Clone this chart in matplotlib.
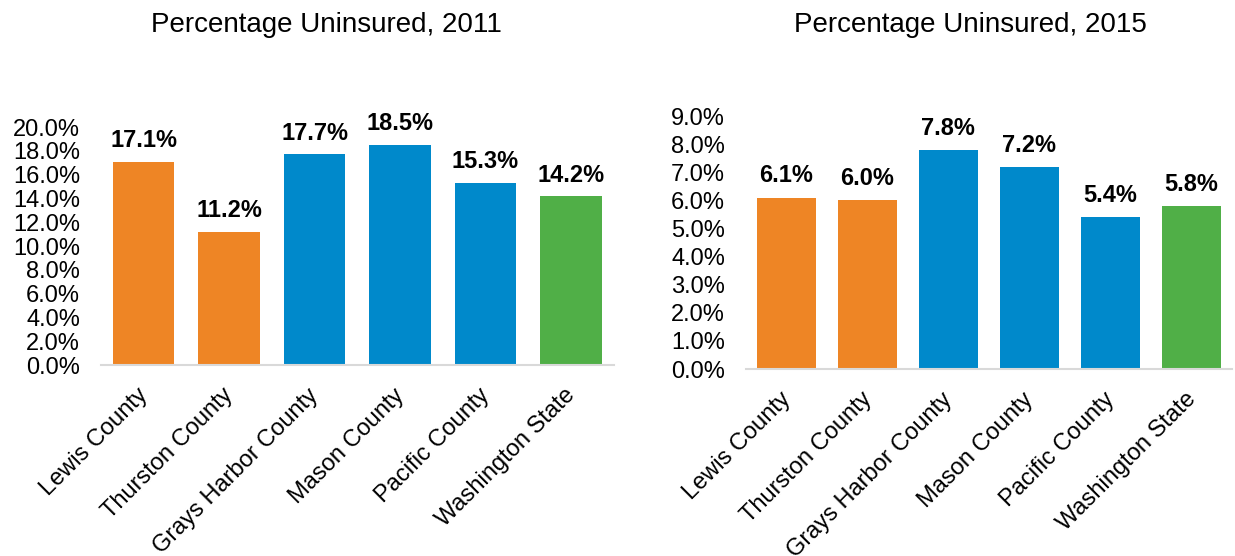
import matplotlib.pyplot as plt
from matplotlib.transforms import ScaledTranslation

plt.rcParams['font.family'] = ['Liberation Sans', 'DejaVu Sans']

# dados
categorias = ['Lewis County', 'Thurston County', 'Grays Harbor County',
              'Mason County', 'Pacific County', 'Washington State']
valores_2011 = [17.1, 11.2, 17.7, 18.5, 15.3, 14.2]
valores_2015 = [6.1, 6.0, 7.8, 7.2, 5.4, 5.8]
ticks_2011 = [0, 2, 4, 6, 8, 10, 12, 14, 16, 18, 20]
ticks_2015 = [0, 1, 2, 3, 4, 5, 6, 7, 8, 9]

laranja = '#EE8525'
azul = '#0089CB'
verde = '#50AF47'
cores = [laranja, laranja, azul, azul, azul, verde]


def desenhar(ax, valores, ticks, titulo, pos_titulo):
    x = range(len(categorias))
    ax.bar(x, valores, width=0.72, color=cores)
    for i, v in zip(x, valores):
        ax.text(i, v + (ticks[-1] * 0.04), f'{v:.1f}%', ha='center', va='bottom',
                fontsize=17, fontweight='bold', clip_on=False)
    ax.set_xlim(-0.5, len(categorias) - 0.5)
    ax.set_ylim(0, ticks[-1])
    ax.set_yticks(ticks)
    ax.set_yticklabels([f'{t:.1f}%' for t in ticks], fontsize=17)
    ax.set_xticks(list(x))
    ax.set_xticklabels(categorias, rotation=45, ha='right', rotation_mode='anchor',
                       fontsize=17)
    ax.tick_params(axis='y', length=0, pad=15)
    ax.tick_params(axis='x', length=0, pad=14)
    # desloca um pouco os rótulos inclinados para a esquerda
    desloc = ScaledTranslation(-5 / 72, 0, ax.figure.dpi_scale_trans)
    for rotulo in ax.get_xticklabels():
        rotulo.set_transform(rotulo.get_transform() + desloc)
    for lado in ['top', 'right', 'left']:
        ax.spines[lado].set_visible(False)
    ax.spines['bottom'].set_color('#D9D9D9')
    ax.spines['bottom'].set_linewidth(1.5)
    ax.figure.text(pos_titulo[0], pos_titulo[1], titulo, ha='center', va='center', fontsize=20)


fig = plt.figure(figsize=(12.35, 5.56), dpi=100)
ax1 = fig.add_axes([0.0818, 0.3435, 0.415, 0.428])
ax2 = fig.add_axes([0.604, 0.3363, 0.3935, 0.455])

desenhar(ax1, valores_2011, ticks_2011, 'Percentage Uninsured, 2011', (326 / 1235, 1 - 25 / 556))
desenhar(ax2, valores_2015, ticks_2015, 'Percentage Uninsured, 2015', (970 / 1235, 1 - 25 / 556))

fig.savefig('out.png', dpi=100)
